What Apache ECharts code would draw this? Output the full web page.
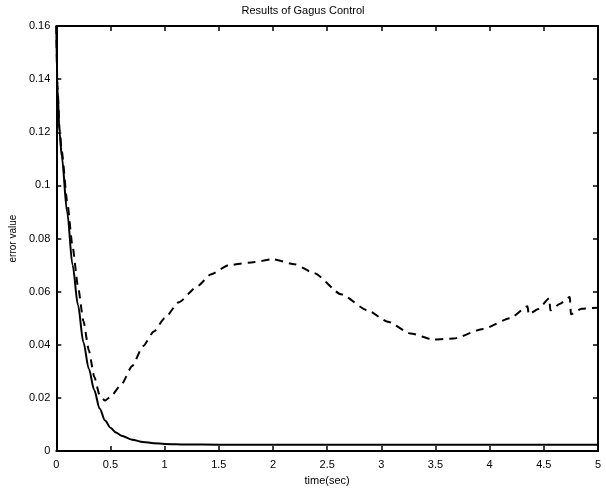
<!DOCTYPE html>
<html><head><meta charset="utf-8">
<script src="https://cdn.jsdelivr.net/npm/echarts@6/dist/echarts.min.js"></script>
<style>html,body{margin:0;padding:0;background:#fff}#c{width:606px;height:491px}</style>
</head><body><div id="c"></div>
<script>
const titleText = "Results of Gagus Control";
const xName = "time(sec)";
const yName = "error value";
const solidT = [0,0.01,0.03,0.05,0.1,0.15,0.2,0.25,0.3,0.35,0.4,0.45,0.5,0.55,0.6,0.7,0.8,0.9,1.0,1.2,1.5,2,2.5,3,3.5,4,4.5,5];
const solidV = [0.16,0.137,0.12,0.111,0.09,0.07,0.055,0.041,0.031,0.023,0.016,0.0115,0.0088,0.007,0.0058,0.0043,0.0034,0.003,0.0027,0.0025,0.0024,0.0024,0.0024,0.0024,0.0024,0.0024,0.0024,0.0024];
const dashT = [0,0.01,0.03,0.05,0.1,0.15,0.2,0.25,0.3,0.35,0.4,0.45,0.5,0.6,0.7,0.8,0.9,1.0,1.13,1.3,1.43,1.59,1.8,2.0,2.2,2.38,2.63,2.87,3.06,3.27,3.48,3.67,3.94,4.19,4.35,4.36,4.45,4.55,4.56,4.65,4.74,4.75,4.85,5.0];
const dashV = [0.16,0.138,0.121,0.113,0.094,0.077,0.062,0.049,0.038,0.028,0.021,0.019,0.0205,0.025,0.032,0.0395,0.045,0.05,0.056,0.062,0.0666,0.07,0.071,0.0722,0.0703,0.067,0.059,0.053,0.0487,0.0443,0.042,0.0424,0.046,0.05,0.0545,0.0515,0.0535,0.0575,0.053,0.0555,0.058,0.0515,0.0536,0.054];

const font = 'Liberation Sans, Arial, sans-serif';
const chart = echarts.init(document.getElementById('c'));
const tick = {show:true, inside:true, length:5, lineStyle:{color:'#000', width:1.5}};
const line = {show:true, onZero:false, lineStyle:{color:'#000', width:2}};
chart.setOption({
  animation:false,
  title:{text:titleText, left:'center', top:0, textStyle:{fontSize:11, fontWeight:'normal', color:'#000', fontFamily:font}},
  grid:{left:54, right:8, top:26, bottom:35},
  xAxis:[{
    type:'value', min:0, max:5, interval:0.5, position:'bottom',
    name:xName, nameLocation:'middle', nameGap:22,
    nameTextStyle:{fontSize:11, color:'#000', fontFamily:font},
    axisLine:line, axisTick:tick,
    axisLabel:{fontSize:11, color:'#000', fontFamily:font, margin:8, formatter:v=>String(v)},
    splitLine:{show:false}
  },{
    type:'value', min:0, max:5, interval:0.5, position:'top',
    axisLine:line, axisTick:tick,
    axisLabel:{show:false}, splitLine:{show:false}
  }],
  yAxis:[{
    type:'value', min:0, max:0.16, interval:0.02, position:'left',
    name:yName, nameLocation:'middle', nameGap:32,
    nameTextStyle:{fontSize:10, color:'#000', fontFamily:font},
    axisLine:line, axisTick:tick,
    axisLabel:{fontSize:11, color:'#000', fontFamily:font, margin:6, formatter:v=>String(+v.toFixed(2))},
    splitLine:{show:false}
  },{
    type:'value', min:0, max:0.16, interval:0.02, position:'right',
    axisLine:line, axisTick:tick,
    axisLabel:{show:false}, splitLine:{show:false}
  }],
  series:[{
    type:'line', data:solidT.map((t,i)=>[t,solidV[i]]), smooth:0.3, smoothMonotone:'x', showSymbol:false,
    lineStyle:{color:'#000', width:2}
  },{
    type:'line', data:dashT.map((t,i)=>[t,dashV[i]]), smooth:0.2, smoothMonotone:'x', showSymbol:false,
    lineStyle:{color:'#000', width:2, type:[8,6]}
  }]
});
</script></body></html>
